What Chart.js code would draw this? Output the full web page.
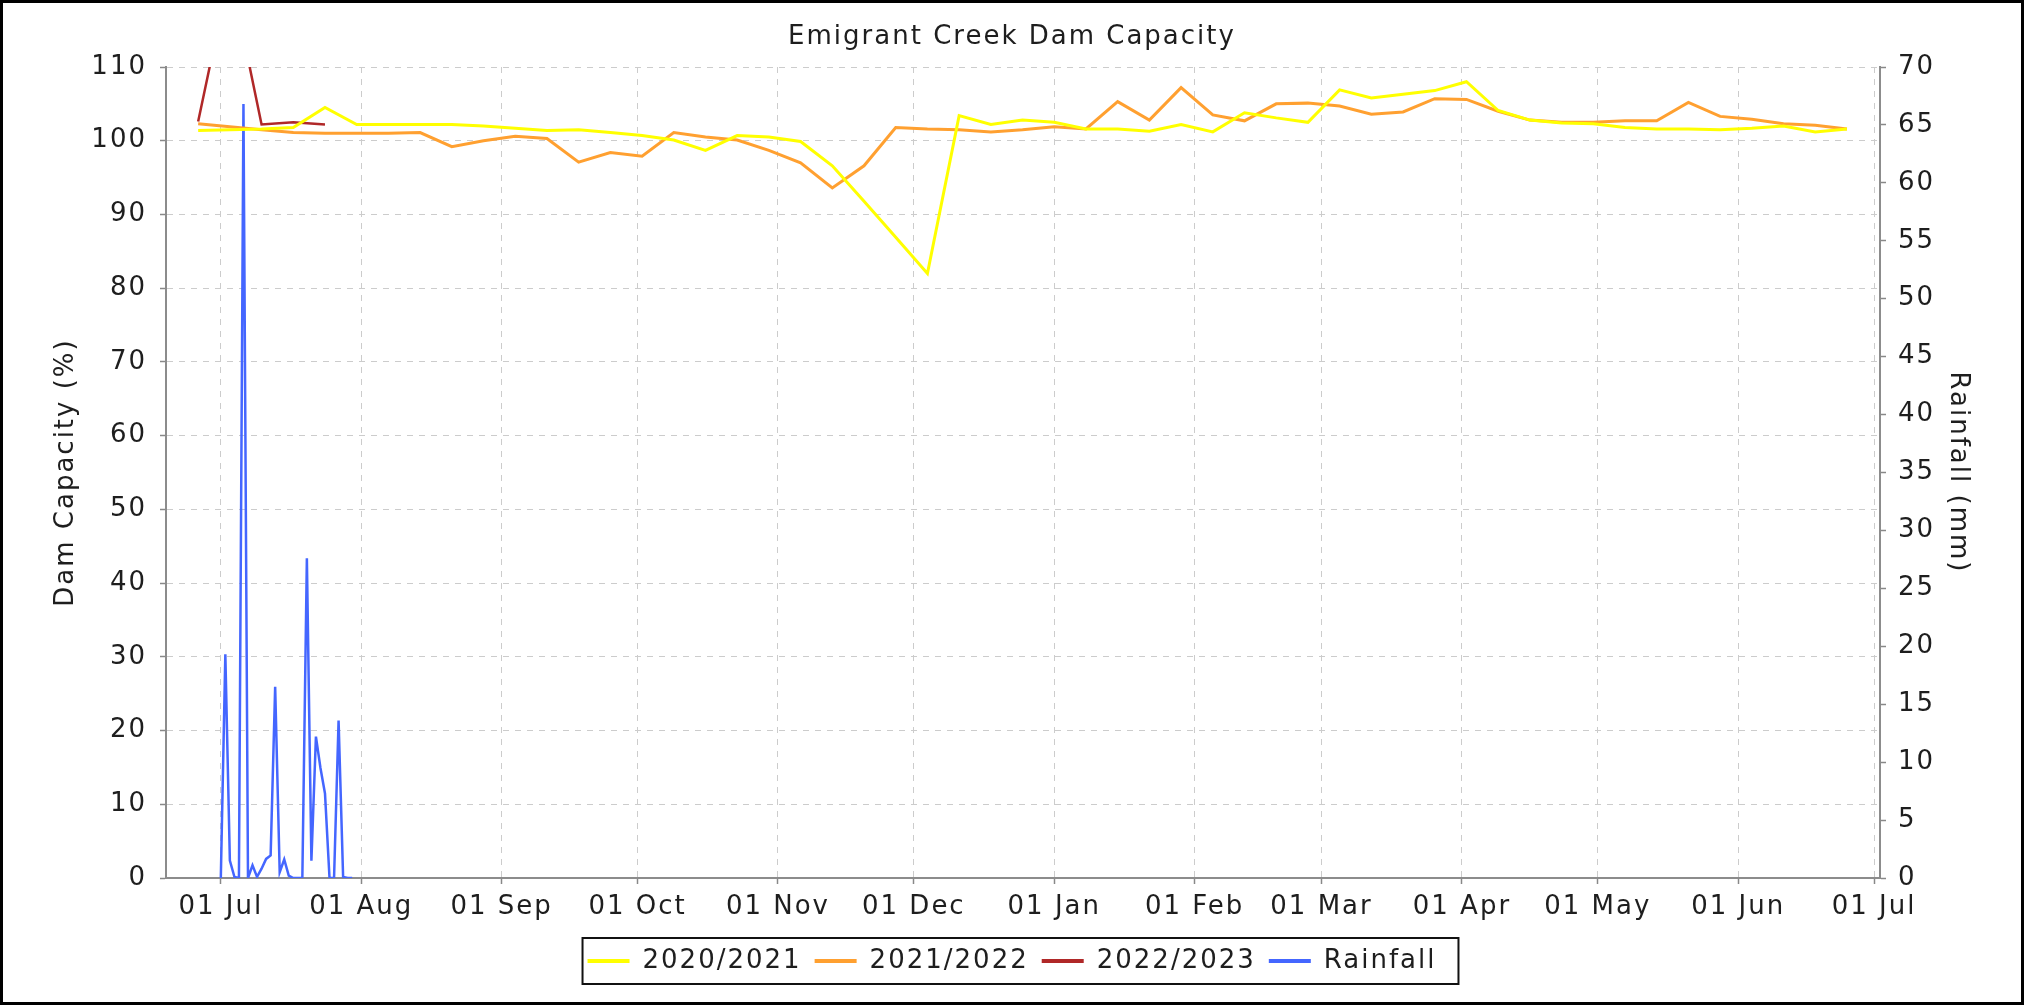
<!DOCTYPE html>
<html>
<head>
<meta charset="utf-8">
<script src="https://cdn.jsdelivr.net/npm/chart.js@4.4.1/dist/chart.umd.min.js"></script>
<style>
html,body{margin:0;padding:0;background:#fff;overflow:hidden}
canvas{display:block}
</style>
</head>
<body>
<canvas id="c" width="2024" height="1005" style="width:2024px;height:1005px"></canvas>
<script>
// ---------- texts ----------
const chartTitle = 'Emigrant Creek Dam Capacity';
const leftAxisTitle = 'Dam Capacity (%)';
const rightAxisTitle = 'Rainfall (mm)';
const seriesNames = ['2020/2021', '2021/2022', '2022/2023', 'Rainfall'];

// ---------- x axis (season July -> June) ----------
const seasonStart = '2021-07-01';
const monthTickDates = ['2021-07-01','2021-08-01','2021-09-01','2021-10-01','2021-11-01','2021-12-01',
  '2022-01-01','2022-02-01','2022-03-01','2022-04-01','2022-05-01','2022-06-01','2022-07-01'];
const monthTickLabels = ['01 Jul','01 Aug','01 Sep','01 Oct','01 Nov','01 Dec',
  '01 Jan','01 Feb','01 Mar','01 Apr','01 May','01 Jun','01 Jul'];

// weekly readings (same calendar positions for every season)
const weekDates = ['2021-06-26','2021-07-03','2021-07-10','2021-07-17','2021-07-24','2021-07-31',
  '2021-08-07','2021-08-14','2021-08-21','2021-08-28','2021-09-04','2021-09-11','2021-09-18',
  '2021-09-25','2021-10-02','2021-10-09','2021-10-16','2021-10-23','2021-10-30','2021-11-06',
  '2021-11-13','2021-11-20','2021-11-27','2021-12-04','2021-12-11','2021-12-18','2021-12-25',
  '2022-01-01','2022-01-08','2022-01-15','2022-01-22','2022-01-29','2022-02-05','2022-02-12',
  '2022-02-19','2022-02-26','2022-03-05','2022-03-12','2022-03-19','2022-03-26','2022-04-02',
  '2022-04-09','2022-04-16','2022-04-23','2022-04-30','2022-05-07','2022-05-14','2022-05-21',
  '2022-05-28','2022-06-04','2022-06-11','2022-06-18','2022-06-25'];

// ---------- capacity series (%) ----------
const cap2020_2021 = [101.4,101.5,101.6,101.8,104.5,102.2,102.2,102.2,102.2,102.0,101.7,101.4,101.5,
  101.1,100.7,100.1,98.7,100.7,100.5,99.9,96.6,91.8,86.9,82.0,103.4,102.2,102.8,
  102.5,101.6,101.6,101.3,102.2,101.2,103.8,103.1,102.5,106.9,105.8,106.3,106.8,108.0,
  104.1,102.8,102.4,102.3,101.8,101.6,101.6,101.5,101.7,102.0,101.2,101.6];
const cap2021_2022 = [102.3,101.9,101.5,101.1,101.0,101.0,101.0,101.1,99.2,100.0,100.6,100.3,97.1,
  98.4,97.9,101.1,100.5,100.1,98.7,97.0,93.6,96.6,101.8,101.6,101.5,101.2,101.5,
  101.9,101.6,105.3,102.8,107.2,103.5,102.7,105.0,105.1,104.7,103.6,103.9,105.7,105.6,
  104.0,102.8,102.5,102.5,102.7,102.7,105.2,103.3,102.9,102.3,102.1,101.6];
const cap2022_2023Dates = ['2021-06-26','2021-07-03','2021-07-10','2021-07-17','2021-07-24'];
const cap2022_2023 = [102.6,123.0,102.2,102.5,102.2];

// ---------- rainfall (mm, daily) ----------
const rainDates = ['2021-07-01','2021-07-02','2021-07-03','2021-07-04','2021-07-05','2021-07-06',
  '2021-07-07','2021-07-08','2021-07-09','2021-07-10','2021-07-11','2021-07-12','2021-07-13',
  '2021-07-14','2021-07-15','2021-07-16','2021-07-17','2021-07-18','2021-07-19','2021-07-20',
  '2021-07-21','2021-07-22','2021-07-23','2021-07-24','2021-07-25','2021-07-26','2021-07-27',
  '2021-07-28','2021-07-29','2021-07-30'];
const rainfall = [0,19.3,1.5,0.1,0,66.8,0,1.1,0.1,0.8,1.65,1.95,16.5,0.5,1.6,0.2,0,0,0,27.6,
  1.5,12.2,9.5,7.3,0,0,13.6,0.1,0,0];

// ---------- helpers ----------
const DAY = 86400000;
const toDay = s => (Date.parse(s) - Date.parse(seasonStart)) / DAY;
const pts = (dates, vals) => dates.map((d, i) => ({x: toDay(d), y: vals[i]}));

const FONT = 'DejaVu Sans';
const FS = 26;
const SPACING = '2px';
const TXT = '#1e1e1e';

const framePlugin = {
  id: 'frame',
  beforeUpdate(chart) { chart.ctx.letterSpacing = SPACING; },
  beforeDraw(chart) {
    const ctx = chart.ctx;
    ctx.letterSpacing = SPACING;
    ctx.save();
    ctx.fillStyle = '#ffffff';
    ctx.fillRect(0, 0, chart.width, chart.height);
    ctx.restore();
  },
  afterDraw(chart) {
    const ctx = chart.ctx;
    const hb = chart.legend && chart.legend.legendHitBoxes;
    ctx.save();
    if (hb && hb.length) {
      const first = hb[0], last = hb[hb.length - 1];
      const x0 = first.left - 5, x1 = last.left + last.width + 22;
      const yc = first.top + first.height / 2;
      ctx.strokeStyle = '#111';
      ctx.lineWidth = 2;
      ctx.strokeRect(x0, yc - 23, x1 - x0, 46);
    }
    ctx.strokeStyle = '#000';
    ctx.lineWidth = 3;
    ctx.strokeRect(1.5, 1.5, chart.width - 3, chart.height - 3);
    ctx.restore();
  }
};

const ctx = document.getElementById('c').getContext('2d');
new Chart(ctx, {
  type: 'line',
  data: {
    datasets: [
      {label: seriesNames[0], data: pts(weekDates, cap2020_2021), yAxisID: 'y',
       borderColor: '#ffff00', backgroundColor: '#ffff00', borderWidth: 3},
      {label: seriesNames[1], data: pts(weekDates, cap2021_2022), yAxisID: 'y',
       borderColor: '#ffa030', backgroundColor: '#ffa030', borderWidth: 3},
      {label: seriesNames[2], data: pts(cap2022_2023Dates, cap2022_2023), yAxisID: 'y',
       borderColor: '#b02828', backgroundColor: '#b02828', borderWidth: 2.5},
      {label: seriesNames[3], data: pts(rainDates, rainfall), yAxisID: 'y1',
       borderColor: '#4466ff', backgroundColor: '#4466ff', borderWidth: 2.5}
    ]
  },
  options: {
    responsive: false,
    animation: false,
    devicePixelRatio: 1,
    events: [],
    elements: {point: {radius: 0}, line: {tension: 0}},
    layout: {padding: {left: 0, right: 0, top: 0, bottom: 21}},
    plugins: {
      tooltip: {enabled: false},
      title: {
        display: true, text: chartTitle, color: TXT,
        font: {family: FONT, size: FS, weight: 'normal'},
        padding: {top: 21.4, bottom: 14.4}
      },
      legend: {
        position: 'bottom',
        labels: {
          color: TXT,
          font: {family: FONT, size: FS},
          usePointStyle: true, pointStyle: 'line', pointStyleWidth: 42,
          padding: 13,
          generateLabels: (chart) => Chart.defaults.plugins.legend.labels.generateLabels(chart)
            .map(it => Object.assign(it, {lineWidth: 4, pointStyle: 'line'}))
        }
      }
    },
    scales: {
      x: {
        type: 'linear', bounds: 'data',
        min: -12.1, max: 366.3,
        afterBuildTicks: (scale) => { scale.ticks = monthTickDates.map(d => ({value: toDay(d)})); },
        afterFit: (scale) => { scale.height = 57; },
        ticks: {
          callback: (v, i) => monthTickLabels[i],
          autoSkip: false, maxRotation: 0, minRotation: 0,
          color: TXT, font: {family: FONT, size: FS}, padding: 7.4
        },
        grid: {color: '#cccccc', lineWidth: 1, tickLength: 6, tickColor: '#888', tickWidth: 1.5, tickBorderDash: []},
        border: {display: true, color: '#8c8c8c', width: 2, dash: [6, 6]}
      },
      y: {
        position: 'left', min: 0, max: 110,
        afterFit: (scale) => { scale.width = 166; },
        ticks: {stepSize: 10, color: TXT, font: {family: FONT, size: FS}, padding: 13},
        grid: {color: '#cccccc', lineWidth: 1, tickLength: 6, tickColor: '#888', tickWidth: 1.5, tickBorderDash: []},
        border: {display: true, color: '#8c8c8c', width: 2, dash: [6, 6]},
        title: {display: true, text: leftAxisTitle, color: TXT,
                font: {family: FONT, size: FS}, padding: {top: 51, bottom: 0}}
      },
      y1: {
        position: 'right', min: 0, max: 70,
        afterFit: (scale) => { scale.width = 144; },
        ticks: {stepSize: 5, color: TXT, font: {family: FONT, size: FS}, padding: 12},
        grid: {drawOnChartArea: false, color: '#888', tickLength: 6, tickColor: '#888', tickWidth: 1.5},
        border: {display: true, color: '#8c8c8c', width: 2},
        title: {display: true, text: rightAxisTitle, color: TXT,
                font: {family: FONT, size: FS}, padding: {top: 50.4, bottom: 0}}
      }
    }
  },
  plugins: [framePlugin]
});
</script>
</body>
</html>
